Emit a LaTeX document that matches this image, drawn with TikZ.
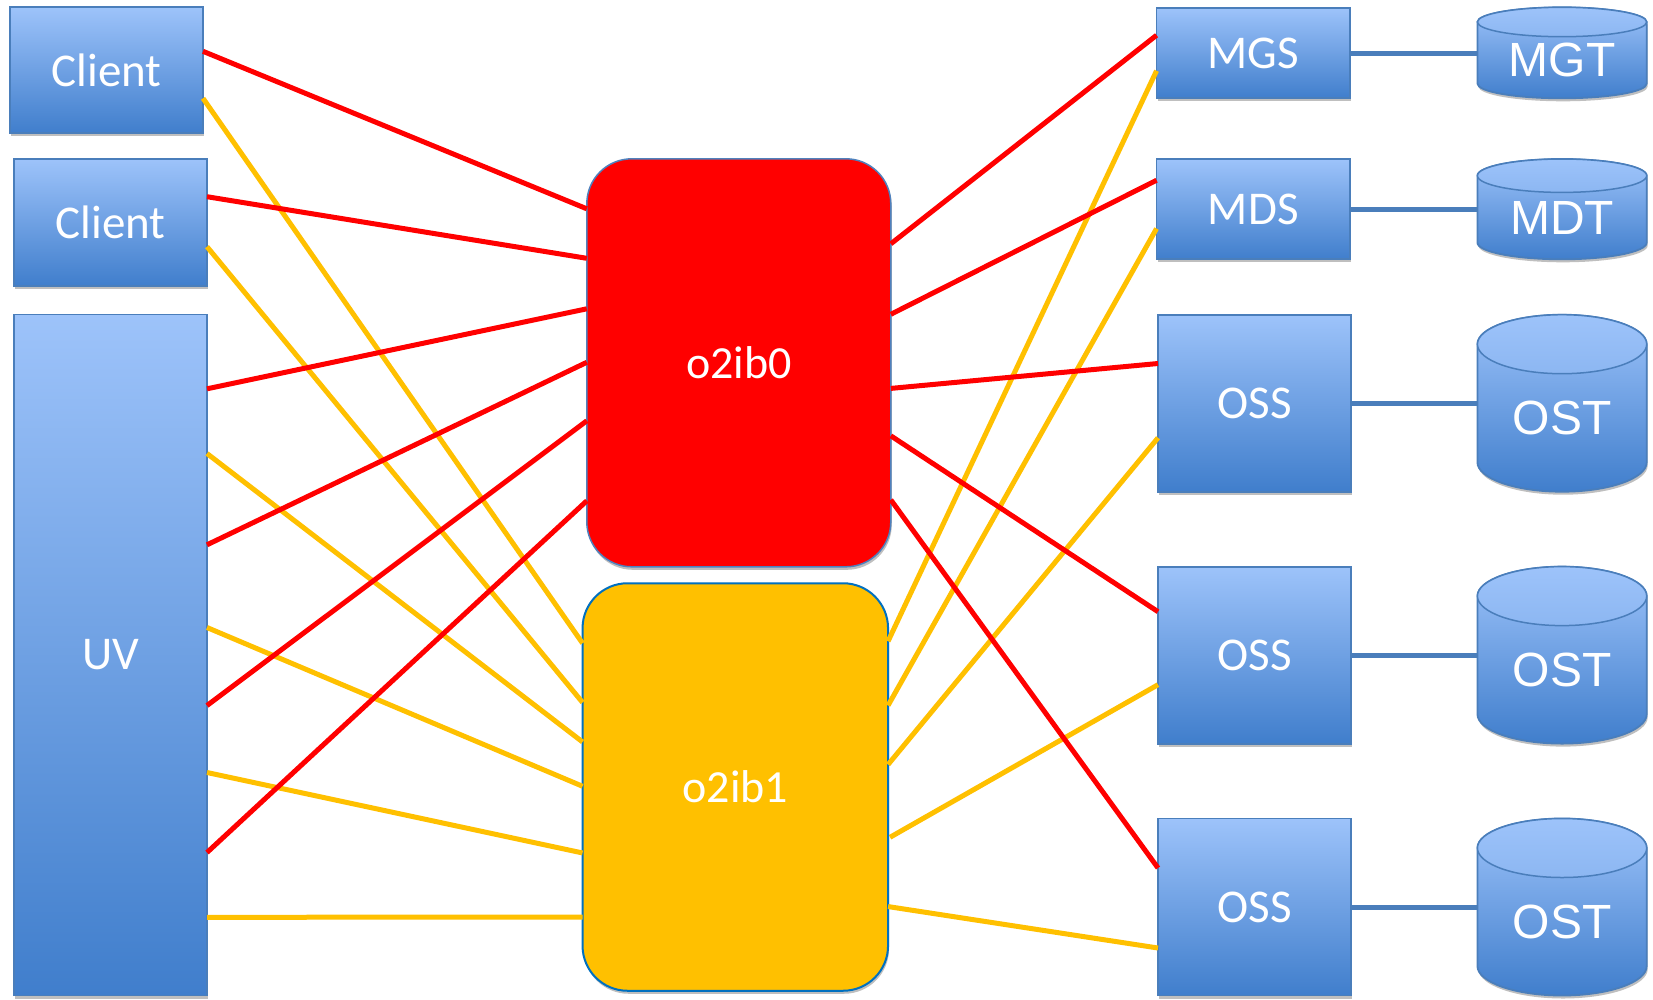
\documentclass[tikz,border=0pt]{standalone}
\usepackage{fontspec}
\newfontfamily\calfont{Carlito}
\newfontfamily\arifont{Liberation Sans}
\usetikzlibrary{shadows}

\definecolor{blight}{RGB}{157,195,250}
\definecolor{bdark}{RGB}{64,126,204}
\definecolor{bedge}{RGB}{74,126,187}
\definecolor{netred}{RGB}{255,0,0}
\definecolor{netyel}{RGB}{255,192,0}
\definecolor{nzeroedge}{RGB}{79,129,189}
\definecolor{noneedge}{RGB}{0,112,192}

\tikzset{
  softshadow/.style={drop shadow={shadow xshift=1pt, shadow yshift=-3pt, opacity=0.25, fill=black}},
  srv/.style={draw=bedge, line width=1.8pt, top color=blight, bottom color=bdark,
    outer sep=0pt, inner sep=0pt, text=white, softshadow,
    font=\calfont\fontsize{47}{56}\selectfont},
  lnet/.style={rounded corners=45pt, outer sep=0pt, inner sep=0pt, text=white, softshadow,
    font=\calfont\fontsize{46}{55}\selectfont},
  redlink/.style={draw=netred, line width=5pt},
  yellink/.style={draw=netyel, line width=5pt},
  disklink/.style={draw=bedge, line width=5pt},
  diskbody/.style={draw=bedge, line width=1.8pt, top color=blight, bottom color=bdark, softshadow},
  disktop/.style={draw=bedge, line width=1.5pt, top color=blight, bottom color=blight!82!bdark},
  disklabel/.style={text=white, inner sep=0pt, font=\arifont\fontsize{48}{57}\selectfont},
}

\begin{document}
\begin{tikzpicture}[x=1pt, y=1pt]
  \useasboundingbox (0,0) rectangle (1653,-999);
  \fill[white] (0,0) rectangle (1653,-999);

  % clients and the UV system
  \node[srv, minimum width=193pt, minimum height=126pt] (c1) at (106.5,-70.3) {Client};
  \node[srv, minimum width=193pt, minimum height=127pt] (c2) at (110.5,-222.5) {Client};
  \node[srv, minimum width=193pt, minimum height=681pt] (uv) at (110.5,-655) {UV};

  % the two LNet networks
  \node[lnet, fill=netred, draw=nzeroedge, line width=1.5pt,
        minimum width=304pt, minimum height=408pt] (n0) at (738.8,-362.8) {o2ib0};
  \node[lnet, fill=netyel, draw=noneedge, line width=2pt,
        minimum width=305.5pt, minimum height=407.5pt] (n1) at (735.3,-787) {o2ib1};

  % servers
  \node[srv, minimum width=193.5pt, minimum height=90.5pt] (mgs) at (1253.3,-53) {MGS};
  \node[srv, minimum width=193.5pt, minimum height=100.3pt] (mds) at (1253.3,-209.2) {MDS};
  \node[srv, minimum width=193pt, minimum height=177pt] (oss1) at (1254.5,-403.2) {OSS};
  \node[srv, minimum width=193pt, minimum height=177pt] (oss2) at (1254.5,-655.1) {OSS};
  \node[srv, minimum width=193pt, minimum height=177pt] (oss3) at (1254.5,-907) {OSS};

  % storage targets (cylinders)
  \foreach \nm/\t/\b/\r/\lab in {mgt/7.3/98.3/14.7/MGT, mdt/159/259.3/16.7/MDT,
      ost1/314.7/491.7/29.5/OST, ost2/566.6/743.6/29.5/OST, ost3/818.5/995.5/29.5/OST}{
    \path[diskbody] (1477.4,{-(\t+\r)}) -- (1477.4,{-(\b-\r)})
      arc[start angle=180, end angle=360, x radius=84.65pt, y radius=\r pt]
      -- (1646.7,{-(\t+\r)})
      arc[start angle=0, end angle=180, x radius=84.65pt, y radius=\r pt] -- cycle;
    \path[disktop] (1562.05,{-(\t+\r)}) ellipse [x radius=84.65pt, y radius=\r pt];
    \node[inner sep=0pt, outer sep=0pt, minimum width=169.3pt,
          minimum height={\b-\t}] (\nm) at (1562.05,{-(\t+\b)/2}) {};
    \node[disklabel] (\nm-label) at (1562.05,{-(\t+\r+\b)/2}) {\lab};
  }

  % server to target links
  \draw[disklink] (mgs.east) -- (mgs.east -| mgt.west);
  \draw[disklink] (mds.east) -- (mds.east -| mdt.west);
  \draw[disklink] (oss1.east) -- (oss1.east -| ost1.west);
  \draw[disklink] (oss2.east) -- (oss2.east -| ost2.west);
  \draw[disklink] (oss3.east) -- (oss3.east -| ost3.west);

  % o2ib1 links, left side
  \draw[yellink] ([yshift=-91pt]c1.north east) -- ([yshift=-60pt]n1.north west);
  \draw[yellink] ([yshift=-87.7pt]c2.north east) -- ([yshift=-119.2pt]n1.north west);
  \draw[yellink] ([yshift=-139pt]uv.north east) -- ([yshift=-158.7pt]n1.north west);
  \draw[yellink] ([yshift=-313pt]uv.north east) -- ([yshift=-203pt]n1.north west);
  \draw[yellink] ([yshift=-458pt]uv.north east) -- ([yshift=-269.7pt]n1.north west);
  \draw[yellink] ([yshift=-602.8pt]uv.north east) -- ([yshift=-333.8pt]n1.north west);

  % o2ib1 links, right side
  \draw[yellink] ([yshift=-58pt]n1.north east) -- ([yshift=-63pt]mgs.north west);
  \draw[yellink] ([yshift=-122.2pt]n1.north east) -- ([yshift=-69.5pt]mds.north west);
  \draw[yellink] ([yshift=-181.3pt]n1.north east) -- ([yshift=-123.1pt]oss1.north west);
  \draw[yellink] ([xshift=2pt,yshift=-254pt]n1.north east) -- ([yshift=-118.1pt]oss2.north west);
  \draw[yellink] ([yshift=-323.3pt]n1.north east) -- ([yshift=-129.5pt]oss3.north west);

  % o2ib0 links, left side
  \draw[redlink] ([yshift=-44pt]c1.north east) -- ([yshift=-50pt]n0.north west);
  \draw[redlink] ([yshift=-37.7pt]c2.north east) -- ([yshift=-99.5pt]n0.north west);
  \draw[redlink] ([yshift=-74.3pt]uv.north east) -- ([yshift=-150pt]n0.north west);
  \draw[redlink] ([yshift=-230.3pt]uv.north east) -- ([yshift=-203.5pt]n0.north west);
  \draw[redlink] ([yshift=-391pt]uv.north east) -- ([yshift=-262pt]n0.north west);
  \draw[redlink] ([yshift=-538pt]uv.north east) -- ([yshift=-342pt]n0.north west);

  % o2ib0 links, right side
  \draw[redlink] ([yshift=-85pt]n0.north east) -- ([yshift=-27.5pt]mgs.north west);
  \draw[redlink] ([yshift=-155.5pt]n0.north east) -- ([yshift=-21.2pt]mds.north west);
  \draw[redlink] ([yshift=-229.6pt]n0.north east) -- ([yshift=-48.8pt]oss1.north west);
  \draw[redlink] ([yshift=-277pt]n0.north east) -- ([yshift=-45.1pt]oss2.north west);
  \draw[redlink] ([yshift=-341pt]n0.north east) -- ([yshift=-49.5pt]oss3.north west);
\end{tikzpicture}
\end{document}
